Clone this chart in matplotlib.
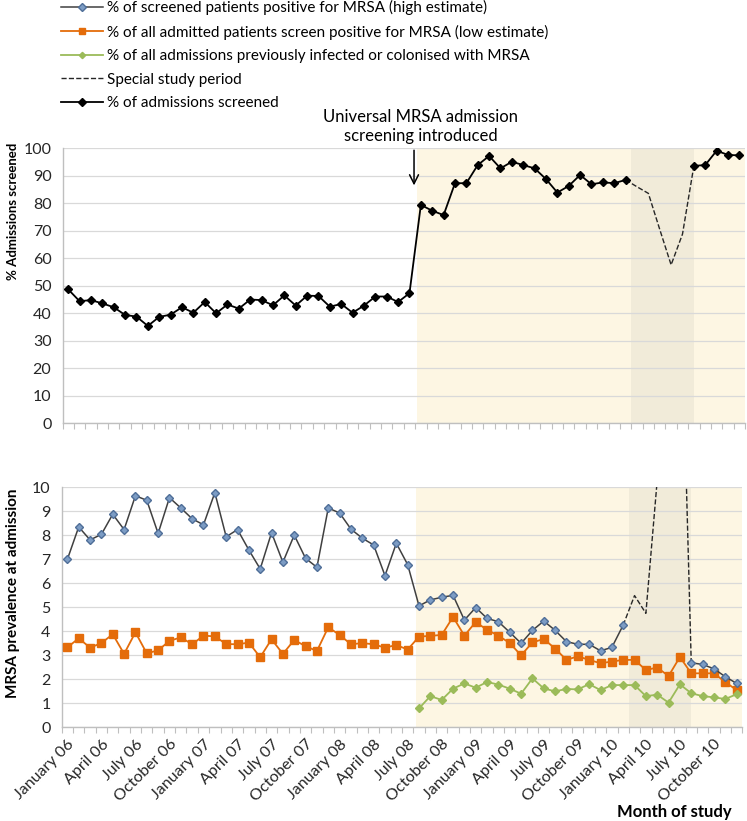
import numpy as np
import matplotlib
matplotlib.use("Agg")
import matplotlib.pyplot as plt

plt.rcParams['font.family'] = ['Lato', 'DejaVu Sans']

# Month categories (January 06 .. December 10), labels every 3 months
month_names = ["January", "February", "March", "April", "May", "June", "July",
               "August", "September", "October", "November", "December"]
years = ["06", "07", "08", "09", "10"]
months = [m + " " + y for y in years for m in month_names]
tick_labels = [months[i] for i in range(0, 60, 3)]

# % of admissions screened (gap during special study period)
screened = [48.7, 44.4, 44.8, 43.6, 42.2, 39.4, 38.8, 35.4, 38.7, 39.5,
            42.2, 40.2, 44.1, 40.0, 43.2, 41.7, 45.0, 44.8, 42.9, 46.5,
            42.8, 46.4, 46.3, 42.4, 43.4, 40.2, 42.8, 46.1, 46.1, 44.1,
            47.3, 79.4, 77.3, 75.7, 87.3, 87.3, 93.9, 97.2, 92.7, 95.1,
            93.9, 92.7, 88.8, 83.9, 86.3, 90.3, 86.9, 87.6, 87.3, 88.5,
            None, None, None, None, None, 93.6, 93.9, 99.1, 97.6, 97.4]
screened_special = [None] * 49 + [88.5, 86.0, 83.6, 70.5, 57.6, 68.8, 93.6] + [None] * 4

# % of screened patients positive (high estimate)
high = [7.00, 8.35, 7.81, 8.04, 8.88, 8.24, 9.65, 9.46, 8.08, 9.57,
        9.14, 8.69, 8.44, 9.78, 7.94, 8.24, 7.39, 6.60, 8.11, 6.88,
        8.01, 7.04, 6.67, 9.14, 8.93, 8.26, 7.88, 7.60, 6.32, 7.67,
        6.78, 5.06, 5.31, 5.42, 5.50, 4.47, 4.99, 4.54, 4.40, 3.96,
        3.50, 4.04, 4.43, 4.04, 3.57, 3.46, 3.46, 3.19, 3.33, 4.26,
        None, None, None, None, None, 2.69, 2.62, 2.44, 2.11, 1.83]
high_special = [None] * 49 + [4.26, 5.49, 4.75, 10.3, 22.0, 20.0, 2.69] + [None] * 4

# % of all admitted patients positive (low estimate)
low = [3.33, 3.71, 3.32, 3.51, 3.88, 3.06, 3.96, 3.08, 3.21, 3.60,
       3.75, 3.46, 3.82, 3.79, 3.47, 3.46, 3.53, 2.92, 3.67, 3.06,
       3.64, 3.38, 3.18, 4.17, 3.85, 3.46, 3.51, 3.46, 3.32, 3.43,
       3.24, 3.78, 3.81, 3.85, 4.60, 3.82, 4.39, 4.06, 3.82, 3.51,
       3.00, 3.54, 3.68, 3.28, 2.81, 2.96, 2.81, 2.67, 2.74, 2.81,
       2.81, 2.39, 2.49, 2.14, 2.93, 2.25, 2.25, 2.25, 1.89, 1.55]

# % of admissions previously infected or colonised
previous = [None] * 31 + [0.79, 1.30, 1.14, 1.61, 1.83, 1.65, 1.89, 1.78, 1.61, 1.40,
                          2.04, 1.62, 1.50, 1.60, 1.58, 1.80, 1.55, 1.76, 1.76, 1.76,
                          1.30, 1.36, 1.03, 1.79, 1.42, 1.30, 1.25, 1.18, 1.38]

# shaded periods (category positions)
universal_start, universal_end = 30.7, 59.5
special_start, special_end = 49.5, 55.0

x = np.arange(len(months))
to_arr = lambda v: np.array(v, dtype=float)

light = '#FDF6E3'
dark = '#F1EBD9'
grid_c = '#D9D9D9'
axis_c = '#BFBFBF'

fig = plt.figure(figsize=(7.47, 8.21), dpi=100)
ax1 = fig.add_axes([0.0837, 0.4844, 0.9137, 0.3350])
ax2 = fig.add_axes([0.0826, 0.1141, 0.9111, 0.2923])


def style(ax, ymax, step):
    ax.set_xlim(-0.5, 59.5)
    ax.set_ylim(0, ymax)
    ax.set_yticks(np.arange(0, ymax + step / 2, step))
    ax.set_axisbelow(True)
    ax.grid(axis='y', color=grid_c, linewidth=0.9)
    for s in ['top', 'right']:
        ax.spines[s].set_visible(False)
    for s in ['left', 'bottom']:
        ax.spines[s].set_color(axis_c)
        ax.spines[s].set_linewidth(1.0)
    ax.axvspan(universal_start, universal_end, color=light, zorder=0, lw=0)
    ax.axvspan(special_start, special_end, color=dark, zorder=0, lw=0)
    ax.set_xticks(np.arange(-0.5, 60, 1))
    ax.set_xticklabels([])
    ax.tick_params(axis='x', which='major', length=4, color=axis_c, direction='out')
    ax.tick_params(axis='y', length=0, labelsize=11.5, pad=8, colors='#262626')


style(ax1, 100, 10)
style(ax2, 10, 1)

# top panel
ax1.plot(x, to_arr(screened_special), '--', color='#262626', lw=1.0, zorder=3)
h_scr, = ax1.plot(x, to_arr(screened), '-', color='black', lw=1.3, marker='D',
                  markersize=4.5, zorder=4)
ax1.set_ylabel('% Admissions screened', fontsize=9.5, fontweight='bold')
ax1.yaxis.set_label_coords(-0.064, 0.77)
ax1.annotate('', xy=(30.4, 85.5), xytext=(30.4, 100.3),
             arrowprops=dict(arrowstyle='->', color='black', lw=1.1, mutation_scale=16),
             annotation_clip=False)
ax1.text(31.0, 101.4, 'Universal MRSA admission\nscreening introduced', ha='center',
         va='bottom', fontsize=12, linespacing=1.3, clip_on=False)

# bottom panel
h_dash, = ax2.plot(x, to_arr(high_special), '--', color='#262626', lw=1.0, zorder=3)
h_high, = ax2.plot(x, to_arr(high), '-', color='#404040', lw=1.1, marker='D',
                   markersize=4.5, markerfacecolor='#7C9CC4', markeredgecolor='#4F6E98',
                   zorder=5)
h_low, = ax2.plot(x, to_arr(low), '-', color='#E46C0A', lw=1.3, marker='s',
                  markersize=5.5, zorder=4)
h_prev, = ax2.plot(x, to_arr(previous), '-', color='#9BBB59', lw=1.3, marker='D',
                   markersize=4, zorder=4)
ax2.set_ylabel('MRSA prevalence at admission', fontsize=11, fontweight='bold')
ax2.yaxis.set_label_coords(-0.062, 0.56)

ax2.set_xticks(np.arange(0, 60, 3), minor=True)
ax2.set_xticklabels(tick_labels, minor=True, rotation=45, ha='right',
                    rotation_mode='anchor', fontsize=11.5, color='#262626')
ax2.tick_params(axis='x', which='minor', length=0, pad=7)

fig.text(0.98, 0.013, 'Month of study', ha='right', va='center_baseline', fontsize=12,
         fontweight='bold')

fig.legend([h_high, h_low, h_prev, h_dash, h_scr],
           ['% of screened patients positive for MRSA (high estimate)',
            '% of all admitted patients screen positive for MRSA (low estimate)',
            '% of all admissions previously infected or colonised with MRSA',
            'Special study period',
            '% of admissions screened'],
           loc='upper left', bbox_to_anchor=(0.082, 1.0), frameon=False,
           fontsize=11, handlelength=2.7, handletextpad=0.3, labelspacing=0.62,
           borderpad=0.0, borderaxespad=0.0, markerscale=0.8)

fig.savefig('out.png', dpi=100)
